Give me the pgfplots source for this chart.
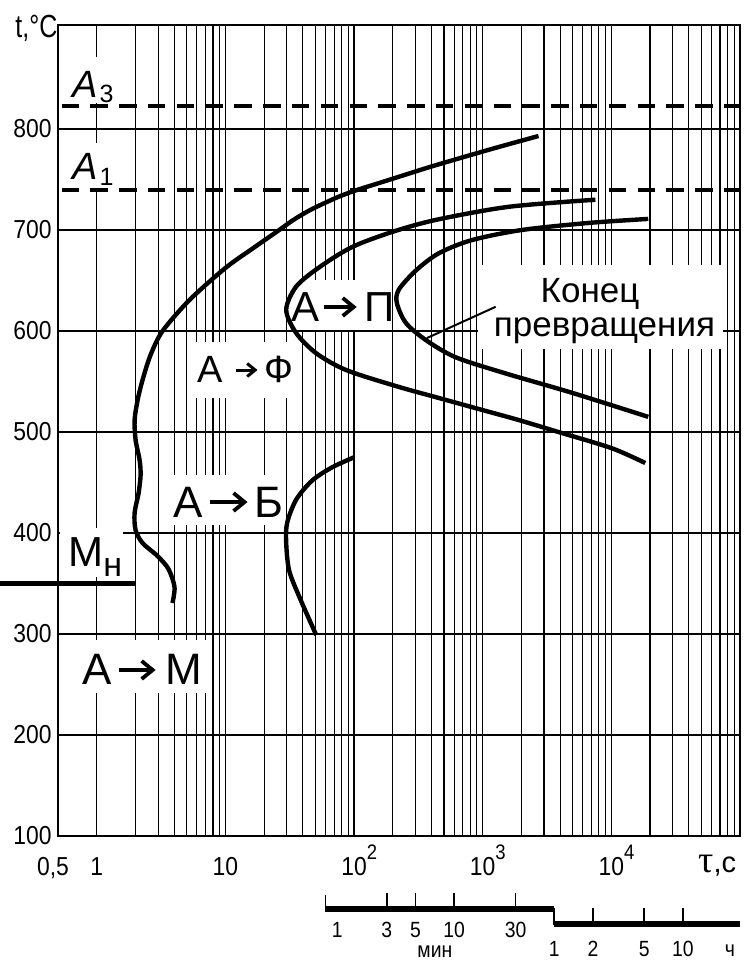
\documentclass[border=0pt]{standalone}
\usepackage{fontspec}
\setmainfont{Liberation Sans}
\newfontfamily\narrowfont{Liberation Sans}[FakeStretch=0.88]
\newfontfamily\narrowerfont{Liberation Sans}[FakeStretch=0.78]
\newfontfamily\greekfont{Liberation Serif}
\usepackage{pgfplots}
\pgfplotsset{compat=1.18}
\usetikzlibrary{arrows.meta}

\newcommand{\fs}[1]{\fontsize{#1}{#1}\selectfont}
% superscript exponent that does not change the label's box
\newcommand{\ex}[1]{\rlap{\raisebox{8pt}[0pt][0pt]{\fs{10.5pt}#1}}}
% arrow between phase letters: length, gap before, gap after
\newcommand{\arr}[3]{\hspace*{#2}\tikz[baseline=0pt]\draw[line width=1.9pt,
  -{Straight Barb[length=5.5pt,width=9pt]}] (0pt,7.5pt) -- (#1,7.5pt);\hspace*{#3}}
\newcommand{\sarr}[3]{\hspace*{#2}\tikz[baseline=0pt]\draw[line width=1.5pt,
  -{Straight Barb[length=4pt,width=6.5pt]}] (0pt,6pt) -- (#1,6pt);\hspace*{#3}}

\begin{document}
\begin{tikzpicture}
\useasboundingbox (-29pt,-62pt) rectangle (344.5pt,418pt);
\begin{axis}[
  at={(0pt,0pt)}, anchor=south west,
  scale only axis, width=341pt, height=405.5pt,
  xmode=log, xmin=0.5, xmax=100000, ymin=100, ymax=903,
  clip=false,
  axis line style={line width=0.6pt, black},
  xtick={0.5,1,10,100,1000,10000},
  xticklabels={{\hspace*{-5pt}0,5},1,10,10\ex{2},10\ex{3},10\ex{4}},
  minor xtick={2,3,4,5,6,7,8,9,20,30,40,50,60,70,80,90,
    200,300,400,500,600,700,800,900,2000,3000,4000,5000,6000,7000,8000,9000,
    20000,30000,40000,50000,60000,70000,80000,90000},
  ytick={100,200,300,400,500,600,700,800},
  yticklabels={100,200,300,400,500,600,700,800},
  xmajorgrids, xminorgrids, ymajorgrids,
  major grid style={line width=0.6pt, black},
  minor grid style={line width=0.6pt, black},
  major tick length=0pt, minor tick length=0pt,
  ticklabel style={font=\narrowfont\fs{13pt}},
  xticklabel style={inner sep=0pt, anchor=north, yshift=-10.5pt},
  yticklabel style={inner sep=0pt, anchor=east, xshift=-3pt},
]
% white panels behind the labels
\fill[white] (rel axis cs:0.0059,0.9038) rectangle (rel axis cs:0.0836,0.9605);
\fill[white] (rel axis cs:0.0059,0.7990) rectangle (rel axis cs:0.0836,0.8545);
\fill[white] (rel axis cs:0.0029,0.3194) rectangle (rel axis cs:0.0953,0.3798);
\fill[white] (rel axis cs:0.0367,0.1763) rectangle (rel axis cs:0.2185,0.2417);
\fill[white] (rel axis cs:0.1613,0.3835) rectangle (rel axis cs:0.3328,0.4451);
\fill[white] (rel axis cs:0.1935,0.5401) rectangle (rel axis cs:0.3548,0.6091);
\fill[white] (rel axis cs:0.3446,0.6239) rectangle (rel axis cs:0.4868,0.6856);
\fill[white] (rel axis cs:0.6158,0.6005) rectangle (rel axis cs:0.9751,0.7041);

% labels
\node[anchor=base west, inner sep=0pt] at (rel axis cs:0.0205,0.9112)
  {{\fs{19pt}\itshape A}\hspace*{1pt}\raisebox{-2.5pt}{\fs{12.5pt}3}};
\node[anchor=base west, inner sep=0pt] at (rel axis cs:0.0205,0.8089)
  {{\fs{19pt}\itshape A}\hspace*{1pt}\raisebox{-3pt}{\fs{12.5pt}1}};
\node[anchor=base west, inner sep=0pt] at (rel axis cs:0.0147,0.3317)
  {{\fs{21pt}М}\raisebox{-5pt}{\fs{17pt}н}};
\node[anchor=base, inner sep=0pt, font=\fs{22pt}] at (rel axis cs:0.1239,0.1862)
  {А\arr{18.5pt}{2.5pt}{4pt}М};
\node[anchor=base, inner sep=0pt, font=\fs{22pt}] at (rel axis cs:0.2500,0.3933)
  {А\arr{19pt}{2.5pt}{2.5pt}Б};
\node[anchor=base, inner sep=0pt, font=\fs{19pt}] at (rel axis cs:0.2749,0.5598)
  {А\sarr{11pt}{5.5pt}{2.5pt}Ф};
\node[anchor=base, inner sep=0pt, font=\fs{21pt}] at (rel axis cs:0.4179,0.6338)
  {А\arr{16.5pt}{1pt}{2.5pt}П};
\node[anchor=base, inner sep=0pt, font=\fs{17.5pt}] at (rel axis cs:0.7801,0.6584) {Конец};
\node[anchor=base, inner sep=0pt, font=\fs{17.5pt}] at (rel axis cs:0.8013,0.6153) {превращения};

% axis titles
\node[anchor=base west, inner sep=0pt, font=\narrowerfont\fs{16pt}] at (rel axis cs:-0.0630,0.9852) {t,°C};
\node[anchor=base west, inner sep=0pt] at (rel axis cs:0.9384,-0.0444)
  {{\greekfont\fs{19pt}τ}{\fs{14.5pt},c}};

% critical points A3 and A1
\addplot[black, line width=2pt, dash pattern=on 8.7pt off 5.7pt] coordinates {(0.5326,823) (100000,823)};
\addplot[black, line width=2pt, dash pattern=on 8.7pt off 5.7pt] coordinates {(0.5326,740) (100000,740)};

% start of transformation (ferrite)
\addplot[black, line width=2.2pt, smooth, no markers] coordinates {
  (2717,793.1) (1330,782.2) (713,772.3) (388,762.4) (208,751.5) (140,744.6)
  (105,739.6) (82.2,734.7) (66.4,729.7) (45.6,719.8) (33.7,709.9) (26.2,700)
  (16.5,682.2) (10.0,662.4) (5.26,630.7) (3.25,600) (2.62,576.2) (2.27,551.5)
  (2.08,531.7) (1.97,511.9) (2.005,492.1) (2.154,472.3) (2.193,457.4)
  (2.116,439.6) (1.97,419.8) (2.005,402.9) (2.27,390.1) (2.97,377.2)
  (3.614,364.3) (4.024,346.5) (3.88,330.7)};
% start of pearlite transformation
\addplot[black, line width=2.2pt, smooth, no markers] coordinates {
  (7516,730) (1592,723) (432,710) (197,698) (96,683) (53.5,663) (35.5,644)
  (29.7,621) (35.5,598) (50.8,578) (86.7,561.4) (211.7,545.5) (456,533.7)
  (931,522.8) (1901,511.9) (3882,500) (10000,484.1) (18360,469.3)};
% end of transformation
\addplot[black, line width=2.2pt, smooth, no markers] coordinates {
  (19360,711) (6635,707) (2005,700) (822,690) (456,677) (303,660) (223,641)
  (215,628) (253,608) (362,591) (617,574) (1508,558) (4897,539) (19360,515)};
% bainite start
\addplot[black, line width=2.2pt, smooth, no markers] coordinates {
  (100,475) (67.5,465) (47.3,452) (35.5,433) (30.2,410) (29.7,390)
  (31.3,363) (37.5,337) (50.8,299)};
% leader to the label
\addplot[black, line width=1pt] coordinates {(1262,624) (368,593)};
% martensite start
\addplot[black, line width=2.6pt] coordinates {(0.177,350) (2.0,350)};

% minutes / hours scale
\addplot[black, line width=2.9pt] coordinates {(60,27.4) (3600,27.4)};
\addplot[black, line width=2.9pt] coordinates {(3600,13.2) (100000,13.2)};
\addplot[black, line width=0.8pt] coordinates {(3600,28.8) (3600,11.8)};
\addplot[black, line width=0.7pt] coordinates {(60,41.6) (60,27.4)};
\addplot[black, line width=0.7pt] coordinates {(180,43.2) (180,27.4)};
\addplot[black, line width=0.7pt] coordinates {(300,43.2) (300,27.4)};
\addplot[black, line width=0.7pt] coordinates {(600,43.2) (600,27.4)};
\addplot[black, line width=0.7pt] coordinates {(1800,43.2) (1800,27.4)};
\addplot[black, line width=0.7pt] coordinates {(7200,28.4) (7200,13.2)};
\addplot[black, line width=0.7pt] coordinates {(18000,28.4) (18000,13.2)};
\addplot[black, line width=0.7pt] coordinates {(36000,28.4) (36000,13.2)};

\begin{scope}[every node/.style={anchor=base, inner sep=0pt, font=\narrowfont\fs{11pt}}]
\node at (axis cs:74,-0.3) {1};
\node at (axis cs:180,-0.3) {3};
\node at (axis cs:300,-0.3) {5};
\node at (axis cs:600,-0.3) {10};
\node at (axis cs:1800,-0.3) {30};
\node[font=\narrowfont\fs{11pt}] at (axis cs:425,-20.3) {мин};
\node at (axis cs:3600,-19.8) {1};
\node at (axis cs:7200,-19.8) {2};
\node at (axis cs:18000,-19.8) {5};
\node at (axis cs:36000,-19.8) {10};
\node at (axis cs:83600,-19.8) {ч};
\end{scope}
\end{axis}
\end{tikzpicture}
\end{document}
